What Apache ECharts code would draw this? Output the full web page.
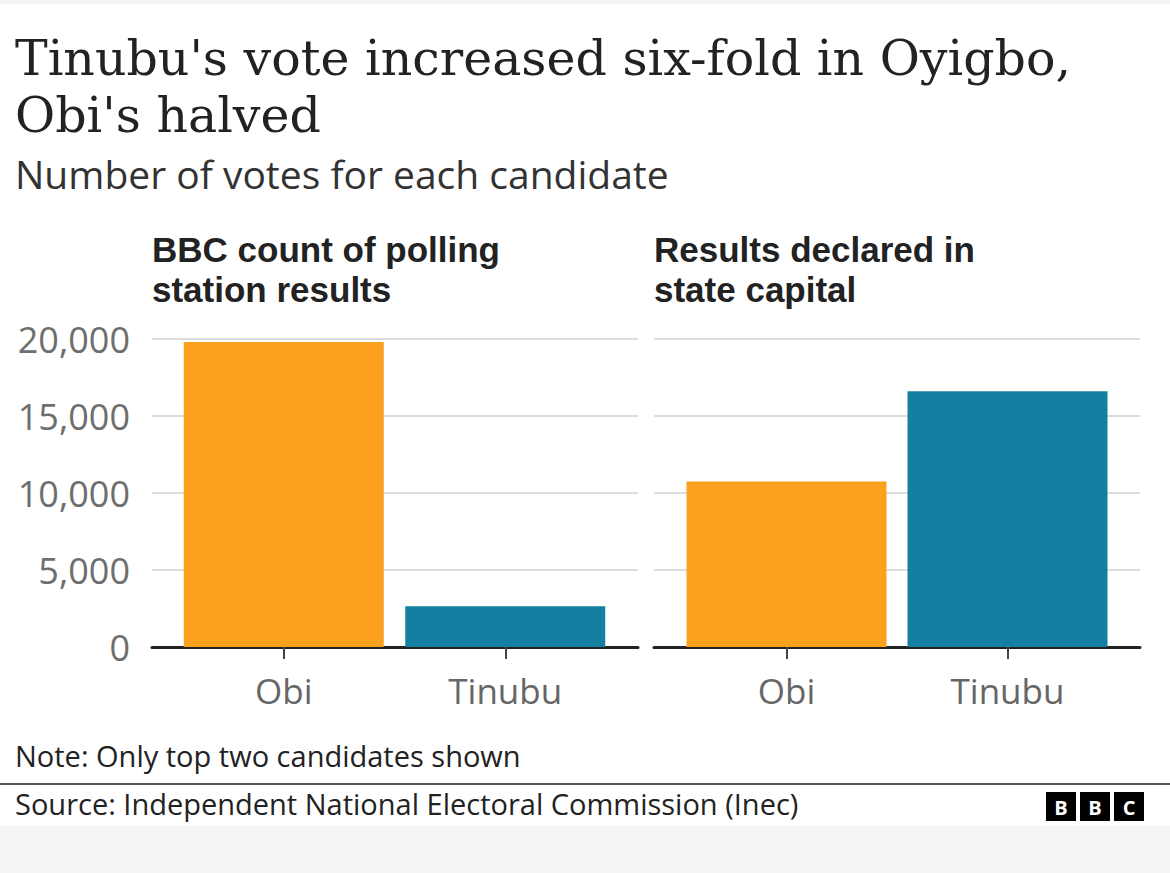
<!DOCTYPE html>
<html>
<head>
<meta charset="utf-8">
<script src="https://cdn.jsdelivr.net/npm/echarts@6/dist/echarts.min.js"></script>
<style>
  html, body { margin: 0; padding: 0; background: #f4f4f4; }
  #chart { width: 1170px; height: 873px; }
</style>
</head>
<body>
<div id="chart"></div>
<script>
// data
const candidates = ['Obi', 'Tinubu'];
const bbcCount = [19800, 2650];
const declared = [10750, 16600];
const barColors = ['#fba11e', '#1380a1'];
const yTicks = [0, 5000, 10000, 15000, 20000];
const panelTitles = [
  ['BBC count of polling', 'station results'],
  ['Results declared in', 'state capital']
];

const sans = '"Open Sans", "Noto Sans", sans-serif';
const boldSans = '"Liberation Sans", Arial, sans-serif';
const serif = '"DejaVu Serif", serif';

const chart = echarts.init(document.getElementById('chart'), null, { renderer: 'svg' });

const fmt = v => v.toLocaleString('en-GB');
const yMax = yTicks[yTicks.length - 1];
const yStep = yTicks[1] - yTicks[0];

// background grids carry gridlines and the black baseline, bar grids carry the bars and ticks
const bgGrids = [
  { left: 152, right: 532, top: 339, bottom: 226 },
  { left: 654, right: 30, top: 339, bottom: 226 }
];
const barGrids = [
  { left: 173, right: 554, top: 339, bottom: 226 },
  { left: 676, right: 52, top: 339, bottom: 226 }
];
const panelLeft = [152, 654];

const option = {
  backgroundColor: '#fff',
  animation: false,
  grid: [...bgGrids, ...barGrids],
  xAxis: [0, 1].map(i => ({
    type: 'category',
    gridIndex: i,
    data: candidates,
    axisLine: { lineStyle: { color: '#222', width: 3 } },
    axisTick: { show: false },
    axisLabel: { show: false }
  })).concat([2, 3].map(i => ({
    type: 'category',
    gridIndex: i,
    data: candidates,
    axisLine: { show: false },
    axisTick: { show: true, alignWithLabel: true, length: 12, lineStyle: { color: '#444', width: 2 } },
    axisLabel: { color: '#666', fontFamily: sans, fontSize: 35, margin: 26 }
  }))),
  yAxis: [0, 1, 2, 3].map(i => ({
    type: 'value',
    gridIndex: i,
    min: 0,
    max: yMax,
    interval: yStep,
    axisLine: { show: false },
    axisTick: { show: false },
    splitLine: { show: i < 2, lineStyle: { color: '#dcdcdc', width: 2 } },
    axisLabel: {
      show: i === 0,
      color: '#6e6e6e',
      fontFamily: sans,
      fontSize: 36,
      margin: 22,
      formatter: fmt
    }
  })),
  series: [
    {
      type: 'bar',
      xAxisIndex: 2,
      yAxisIndex: 2,
      barWidth: 200,
      data: bbcCount.map((v, i) => ({ value: v, itemStyle: { color: barColors[i] } }))
    },
    {
      type: 'bar',
      xAxisIndex: 3,
      yAxisIndex: 3,
      barWidth: 200,
      data: declared.map((v, i) => ({ value: v, itemStyle: { color: barColors[i] } }))
    }
  ],
  graphic: [
    { type: 'rect', shape: { x: 0, y: 0, width: 1170, height: 4 }, style: { fill: '#f4f4f4' } },
    { type: 'rect', shape: { x: 0, y: 826, width: 1170, height: 47 }, style: { fill: '#f4f4f4' } },
    {
      type: 'text', left: 15, top: 34,
      style: { text: "Tinubu's vote increased six-fold in Oyigbo,", fill: '#222', font: '49px ' + serif }
    },
    {
      type: 'text', left: 15, top: 91,
      style: { text: "Obi's halved", fill: '#222', font: '49px ' + serif }
    },
    {
      type: 'text', left: 15, top: 154,
      style: { text: 'Number of votes for each candidate', fill: '#333', font: '39px ' + sans }
    },
    ...panelTitles.flatMap((lines, p) => lines.map((line, j) => ({
      type: 'text', left: panelLeft[p], top: 232 + j * 40,
      style: { text: line, fill: '#222', font: 'bold 35px ' + boldSans }
    }))),
    {
      type: 'text', left: 15, top: 741,
      style: { text: 'Note: Only top two candidates shown', fill: '#222', font: '29px ' + sans }
    },
    { type: 'rect', shape: { x: 0, y: 783, width: 1170, height: 2 }, style: { fill: '#555' } },
    {
      type: 'text', left: 15, top: 789,
      style: { text: 'Source: Independent National Electoral Commission (Inec)', fill: '#222', font: '29px ' + sans }
    },
    ...['B', 'B', 'C'].flatMap((ch, i) => [
      { type: 'rect', shape: { x: 1046 + i * 34, y: 792, width: 30, height: 29 }, style: { fill: '#000' } },
      {
        type: 'text', x: 1061 + i * 34, y: 807,
        style: { text: ch, fill: '#fff', font: 'bold 20px ' + sans, align: 'center', verticalAlign: 'middle' }
      }
    ])
  ]
};

chart.setOption(option);
</script>
</body>
</html>
